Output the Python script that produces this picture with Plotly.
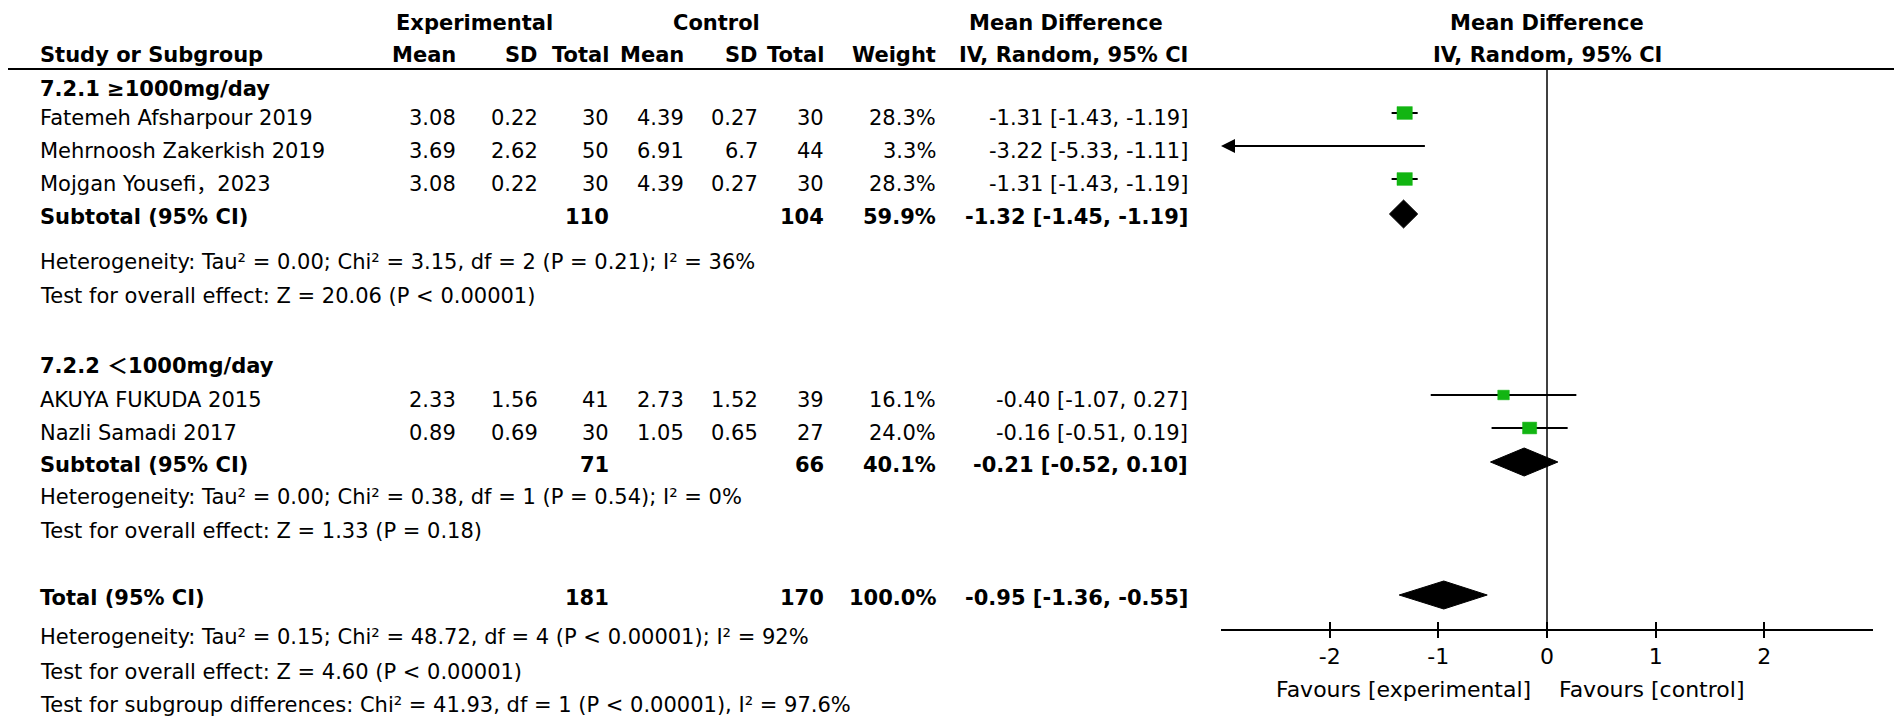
import plotly.graph_objects as go

W, H = 1902, 716

# ---------------- data ----------------
studies = ["Fatemeh Afsharpour 2019", "Mehrnoosh Zakerkish 2019", "Mojgan Yousefi，2023",
           "AKUYA FUKUDA 2015", "Nazli Samadi 2017"]
exp_mean = [3.08, 3.69, 3.08, 2.33, 0.89]
exp_sd = [0.22, 2.62, 0.22, 1.56, 0.69]
exp_n = [30, 50, 30, 41, 30]
ctl_mean = [4.39, 6.91, 4.39, 2.73, 1.05]
ctl_sd = [0.27, 6.7, 0.27, 1.52, 0.65]
ctl_n = [30, 44, 30, 39, 27]
weights = [28.3, 3.3, 28.3, 16.1, 24.0]
md = [-1.31, -3.22, -1.31, -0.40, -0.16]
ci_lo = [-1.43, -5.33, -1.43, -1.07, -0.51]
ci_hi = [-1.19, -1.11, -1.19, 0.27, 0.19]

group_labels = ["7.2.1 ≥1000mg/day", "7.2.2 ＜1000mg/day"]
sum_labels = ["Subtotal (95% CI)", "Subtotal (95% CI)", "Total (95% CI)"]
sum_exp_n = [110, 71, 181]
sum_ctl_n = [104, 66, 170]
sum_weight = [59.9, 40.1, 100.0]
sum_md = [-1.32, -0.21, -0.95]
sum_lo = [-1.45, -0.52, -1.36]
sum_hi = [-1.19, 0.10, -0.55]

het_texts = [
    ["Heterogeneity: Tau² = 0.00; Chi² = 3.15, df = 2 (P = 0.21); I² = 36%",
     "Test for overall effect: Z = 20.06 (P < 0.00001)"],
    ["Heterogeneity: Tau² = 0.00; Chi² = 0.38, df = 1 (P = 0.54); I² = 0%",
     "Test for overall effect: Z = 1.33 (P = 0.18)"],
    ["Heterogeneity: Tau² = 0.15; Chi² = 48.72, df = 4 (P < 0.00001); I² = 92%",
     "Test for overall effect: Z = 4.60 (P < 0.00001)",
     "Test for subgroup differences: Chi² = 41.93, df = 1 (P < 0.00001), I² = 97.6%"],
]

axis_ticks = [-2, -1, 0, 1, 2]
axis_range = [-3, 3]
favours = ["Favours [experimental]", "Favours [control]"]

# ---------------- layout (pixel rows / columns) ----------------
study_rows = [110, 143, 176, 392, 425]
group_rows = [81, 358]
sum_rows = [209, 457, 590]
het_rows = [[254, 288], [489, 523], [629, 664, 697]]
study_mark_offset = 5
sum_mark_offset = 3

FONT = "DejaVu Sans, Liberation Sans, Noto Sans CJK SC, sans-serif"
FS = 21
col_right = {"em": 450, "esd": 532, "en": 603, "cm": 678, "csd": 752, "cn": 818, "w": 930, "ci": 1182}
left_x = 30
axis_px = (1213, 1865)
plot_top, plot_bot = 61, 621
px_per_unit = (axis_px[1] - axis_px[0]) / (axis_range[1] - axis_range[0])


def fx(p):
    return p / W


def fy(p):
    return 1 - p / H


ann = []


def txt(x, y, s, anchor="left", bold=False, size=FS):
    ann.append(dict(x=fx(x), y=fy(y), xref="paper", yref="paper", text=(f"<b>{s}</b>" if bold else s),
                    showarrow=False, xanchor=anchor, yanchor="middle",
                    font=dict(family=FONT, size=size, color="black")))


# headers
txt(386, 15, "Experimental", "left", True)
txt(708, 15, "Control", "center", True)
txt(1058, 15, "Mean Difference", "center", True)
txt(1539, 15, "Mean Difference", "center", True)
txt(left_x, 47, "Study or Subgroup", "left", True)
for key, lab in [("em", "Mean"), ("esd", "SD"), ("en", "Total"), ("cm", "Mean"), ("csd", "SD"),
                 ("cn", "Total"), ("w", "Weight"), ("ci", "IV, Random, 95% CI")]:
    txt(col_right[key], 47, lab, "right", True)
txt(1539, 47, "IV, Random, 95% CI", "center", True)

for g, r in zip(group_labels, group_rows):
    txt(left_x, r, g, "left", True)

for i, s in enumerate(studies):
    y = study_rows[i]
    txt(left_x, y, s)
    txt(col_right["em"], y, f"{exp_mean[i]:g}", "right")
    txt(col_right["esd"], y, f"{exp_sd[i]:g}", "right")
    txt(col_right["en"], y, str(exp_n[i]), "right")
    txt(col_right["cm"], y, f"{ctl_mean[i]:g}", "right")
    txt(col_right["csd"], y, f"{ctl_sd[i]:g}", "right")
    txt(col_right["cn"], y, str(ctl_n[i]), "right")
    txt(col_right["w"], y, f"{weights[i]:.1f}%", "right")
    txt(col_right["ci"], y, f"{md[i]:.2f} [{ci_lo[i]:.2f}, {ci_hi[i]:.2f}]", "right")

for j, lab in enumerate(sum_labels):
    y = sum_rows[j]
    txt(left_x, y, lab, "left", True)
    txt(col_right["en"], y, str(sum_exp_n[j]), "right", True)
    txt(col_right["cn"], y, str(sum_ctl_n[j]), "right", True)
    txt(col_right["w"], y, f"{sum_weight[j]:.1f}%", "right", True)
    txt(col_right["ci"], y, f"{sum_md[j]:.2f} [{sum_lo[j]:.2f}, {sum_hi[j]:.2f}]", "right", True)

for lines, rows in zip(het_texts, het_rows):
    for s, r in zip(lines, rows):
        txt(left_x, r, s)

# ---------------- forest plot ----------------
fig = go.Figure()
GREEN = "#12b512"

for i in range(len(studies)):
    y = study_rows[i] - study_mark_offset
    lo_c = max(ci_lo[i], axis_range[0])
    hi_c = min(ci_hi[i], axis_range[1])
    if ci_lo[i] < axis_range[0]:
        ann.append(dict(x=lo_c, y=y, xref="x2", yref="y2", ax=hi_c, ay=y, axref="x2", ayref="y2",
                        showarrow=True, arrowhead=2, arrowsize=1.4, arrowwidth=2, arrowcolor="black", text=""))
    else:
        fig.add_trace(go.Scatter(x=[lo_c, hi_c], y=[y, y], mode="lines", xaxis="x2", yaxis="y2",
                                 line=dict(color="black", width=2), showlegend=False, hoverinfo="skip"))
    if axis_range[0] <= md[i] <= axis_range[1]:
        h = 2.4 * weights[i] ** 0.5          # square height, px
        hw = 1.2 * h / 2 / px_per_unit       # half width, data units
        hh = h / 2
        fig.add_trace(go.Scatter(x=[md[i] - hw, md[i] + hw, md[i] + hw, md[i] - hw, md[i] - hw],
                                 y=[y - hh, y - hh, y + hh, y + hh, y - hh], mode="lines", fill="toself",
                                 fillcolor=GREEN, line=dict(color=GREEN, width=0.5),
                                 xaxis="x2", yaxis="y2", showlegend=False, hoverinfo="skip"))

DH = 14
for j in range(len(sum_labels)):
    y = sum_rows[j] - sum_mark_offset
    fig.add_trace(go.Scatter(x=[sum_lo[j], sum_md[j], sum_hi[j], sum_md[j], sum_lo[j]],
                             y=[y, y - DH, y, y + DH, y], mode="lines", fill="toself",
                             fillcolor="black", line=dict(color="black", width=1),
                             xaxis="x2", yaxis="y2", showlegend=False, hoverinfo="skip"))

# invisible trace for the overlay axis (inner half of the ticks)
fig.add_trace(go.Scatter(x=[0], y=[300], mode="markers", xaxis="x3", yaxis="y2",
                         marker=dict(opacity=0), showlegend=False, hoverinfo="skip"))

xdom = [fx(axis_px[0]), fx(axis_px[1])]
ydom = [fy(plot_bot), fy(plot_top)]
tick_text = [str(t) for t in axis_ticks]

fig.update_layout(
    width=W, height=H, margin=dict(l=0, r=0, t=0, b=0),
    paper_bgcolor="white", plot_bgcolor="rgba(0,0,0,0)",
    xaxis=dict(visible=False, domain=[0, 1]),
    yaxis=dict(visible=False, domain=[0, 1]),
    xaxis2=dict(domain=xdom, range=axis_range, anchor="y2", showline=True, linecolor="black", linewidth=2,
                ticks="outside", ticklen=7, tickwidth=1.5, tickcolor="black", tickvals=axis_ticks,
                ticktext=tick_text, tickfont=dict(family=FONT, size=22, color="black"),
                showgrid=False, zeroline=False, fixedrange=True),
    xaxis3=dict(domain=xdom, range=axis_range, anchor="y2", overlaying="x2", showline=False,
                ticks="inside", ticklen=7, tickwidth=1.5, tickcolor="black", tickvals=axis_ticks,
                showticklabels=False, showgrid=False, zeroline=False),
    yaxis2=dict(domain=ydom, range=[plot_bot, plot_top], visible=False, anchor="x2"),
    annotations=ann,
    shapes=[
        dict(type="line", xref="paper", yref="paper", x0=0, x1=fx(1899), y0=fy(plot_top), y1=fy(plot_top),
             line=dict(color="black", width=2)),
        dict(type="line", xref="x2", yref="y2 domain", x0=0, x1=0, y0=0, y1=1,
             line=dict(color="black", width=1.5)),
    ],
)

fig.add_annotation(x=0, y=fy(681), xref="x2", yref="paper", text=favours[0], showarrow=False,
                   xanchor="right", yanchor="middle", xshift=-14, font=dict(family=FONT, size=22, color="black"))
fig.add_annotation(x=0, y=fy(681), xref="x2", yref="paper", text=favours[1], showarrow=False,
                   xanchor="left", yanchor="middle", xshift=10, font=dict(family=FONT, size=22, color="black"))

fig.write_html("out.html")
